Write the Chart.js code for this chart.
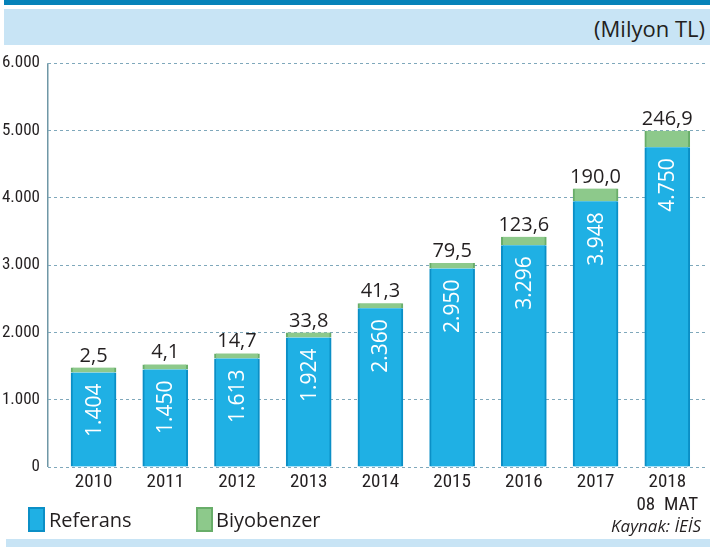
<!DOCTYPE html>
<html>
<head>
<meta charset="utf-8">
<script src="https://cdn.jsdelivr.net/npm/chart.js@4.4.1/dist/chart.umd.min.js"></script>
<style>
  html, body { margin: 0; padding: 0; background: #fff; }
  body { width: 710px; height: 547px; position: relative; overflow: hidden; font-family: "Open Sans", sans-serif; color: #231f20; }
  #topBar { position: absolute; left: 4px; top: 0; width: 706px; height: 5px; background: #0582b9; }
  #header { position: absolute; left: 4px; top: 9px; width: 706px; height: 36px; background: #c8e4f5; }
  #unit { position: absolute; right: 5px; top: 4px; font-size: 22px; }
  #bottomBar { position: absolute; left: 6px; top: 539px; width: 704px; height: 8px; background: #c8e4f5; z-index: 2; }
  #source { position: absolute; right: 9px; top: 514px; font-size: 17px; font-style: italic; z-index: 2; }
  #wrap { position: absolute; left: 0; top: 45px; width: 710px; height: 497px; }
  .key { position: absolute; top: 505px; height: 29px; font-size: 20px; line-height: 29px; z-index: 2; }
  .key i { position: absolute; left: 0; top: 2px; width: 13px; height: 21px; border: 2px solid; }
  .key span { position: absolute; white-space: nowrap; }
</style>
</head>
<body>
<div id="topBar"></div>
<div id="header"><span id="unit">(Milyon TL)</span></div>
<div id="wrap"><canvas id="fuelChart" width="710" height="497"></canvas></div>
<div id="legend"></div>
<div id="source">Kaynak: İEİS</div>
<div id="bottomBar"></div>
<script>
var years = ['2010', '2011', '2012', '2013', '2014', '2015', '2016', '2017', ['2018', '08  MAT']];
var referans = [1404, 1450, 1613, 1924, 2360, 2950, 3296, 3948, 4750];
var biyobenzer = [2.5, 4.1, 14.7, 33.8, 41.3, 79.5, 123.6, 190.0, 246.9];
var yTicks = [0, 1000, 2000, 3000, 4000, 5000, 6000];

var xMin = -0.635, xMax = 8.54;

function withDots(v) {
    return String(v).replace(/\B(?=(\d{3})+(?!\d))/g, '.');
}
function withComma(v) {
    return v.toFixed(1).replace('.', ',');
}

// labels on and above the bars
var barLabels = {
    id: 'barLabels',
    afterDatasetsDraw: function (chart) {
        var ctx = chart.ctx;
        var blue = chart.getDatasetMeta(0).data;
        var green = chart.getDatasetMeta(1).data;
        blue.forEach(function (bar, i) {
            ctx.save();
            ctx.translate(bar.x + 1, bar.y + 11);
            ctx.rotate(-Math.PI / 2);
            ctx.font = '21px "Open Sans"';
            ctx.fillStyle = '#ffffff';
            ctx.textAlign = 'right';
            ctx.textBaseline = 'middle';
            ctx.fillText(withDots(referans[i]), 0, 0);
            ctx.restore();
        });
        ctx.save();
        ctx.font = '20px "Open Sans"';
        ctx.fillStyle = '#231f20';
        ctx.textAlign = 'center';
        ctx.textBaseline = 'alphabetic';
        green.forEach(function (bar, i) {
            ctx.fillText(withComma(biyobenzer[i]), bar.x, bar.y - 6);
        });
        ctx.restore();
    }
};

var ctx = document.getElementById('fuelChart').getContext('2d');
var fuelChart = new Chart(ctx, {
    type: 'bar',
    data: {
        datasets: [{
            label: 'Referans',
            data: referans.map(function (v, i) { return {x: i, y: v}; }),
            backgroundColor: '#1fb0e4',
            borderColor: '#0b8fc6',
            borderWidth: {left: 2, right: 2, top: 0, bottom: 0},
            borderSkipped: false,
            barThickness: 45
        }, {
            label: 'Biyobenzer',
            data: biyobenzer.map(function (v, i) { return {x: i, y: v}; }),
            backgroundColor: '#8dc98b',
            borderColor: '#68ad69',
            borderWidth: {left: 2, right: 2, top: 0, bottom: 0},
            borderSkipped: false,
            minBarLength: 5,
            barThickness: 45
        }]
    },
    options: {
        responsive: false,
        animation: false,
        layout: { padding: { top: 10, right: 4, left: 0, bottom: 23 } },
        plugins: {
            tooltip: { enabled: false },
            legend: { display: false }
        },
        scales: {
            x: {
                type: 'linear',
                stacked: true,
                offset: false,
                min: xMin,
                max: xMax,
                // only the line at the left edge is shown: it is the y axis line
                grid: {
                    offset: false,
                    drawTicks: false,
                    lineWidth: 1.5,
                    color: function (c) {
                        return (c.tick && c.tick.value < 0) ? '#6f97a6' : 'rgba(0,0,0,0)';
                    }
                },
                border: { display: false },
                afterBuildTicks: function (scale) {
                    scale.ticks = [{value: xMin}].concat(years.map(function (y, i) { return {value: i}; }));
                },
                afterFit: function (scale) { scale.height = 52; },
                ticks: {
                    autoSkip: false,
                    maxRotation: 0,
                    padding: 3,
                    color: '#231f20',
                    font: { family: '"Roboto Condensed"', size: 19, lineHeight: 1.25 },
                    callback: function (v) {
                        return (v >= 0 && years[Math.round(v)] !== undefined) ? years[Math.round(v)] : '';
                    }
                }
            },
            y: {
                stacked: true,
                min: yTicks[0],
                max: yTicks[yTicks.length - 1],
                afterFit: function (scale) { scale.width = 48; },
                grid: { color: '#7fa8bb', lineWidth: 1, drawTicks: false },
                border: { display: false, dash: [3, 3] },
                ticks: {
                    stepSize: 1000,
                    padding: 8,
                    color: '#231f20',
                    font: { family: '"Roboto Condensed"', size: 17 },
                    callback: function (v) { return withDots(v); }
                }
            }
        }
    },
    plugins: [barLabels]
});

// legend under the chart, colours taken from the datasets
var legendBox = document.getElementById('legend');
var keyLeft = [28, 196];
fuelChart.data.datasets.forEach(function (ds, i) {
    var key = document.createElement('div');
    key.className = 'key';
    key.style.left = keyLeft[i] + 'px';
    key.innerHTML = '<i style="background:' + ds.backgroundColor + ';border-color:' + ds.borderColor +
        '"></i><span style="left:' + (i === 0 ? 21 : 20) + 'px">' + ds.label + '</span>';
    legendBox.appendChild(key);
});
</script>
</body>
</html>
